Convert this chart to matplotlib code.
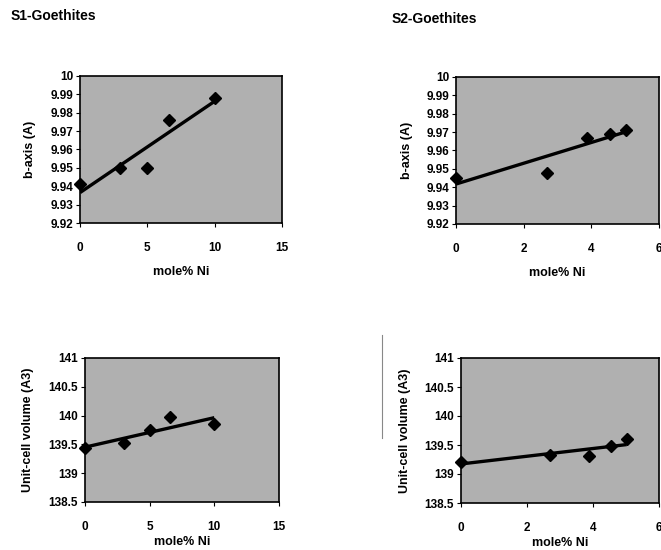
import numpy as np
import matplotlib
matplotlib.use("Agg")
import matplotlib.pyplot as plt
from matplotlib.lines import Line2D

plt.rcParams['font.family'] = ['Liberation Sans', 'DejaVu Sans']

# ---- data ----
s1_ni = [0, 3, 5, 6.6, 10]
s1_b = [9.941, 9.950, 9.950, 9.976, 9.988]
s1_vol = [139.43, 139.52, 139.75, 139.97, 139.85]

s2_ni = [0, 2.7, 3.87, 4.55, 5.02]
s2_b = [9.945, 9.948, 9.967, 9.969, 9.971]
s2_vol = [139.21, 139.33, 139.31, 139.49, 139.60]

b_ticks = [9.92, 9.93, 9.94, 9.95, 9.96, 9.97, 9.98, 9.99, 10.0]
b_ticklabels = ['9.92', '9.93', '9.94', '9.95', '9.96', '9.97', '9.98', '9.99', '10']
v_ticks = [138.5, 139, 139.5, 140, 140.5, 141]
v_ticklabels = ['138.5', '139', '139.5', '140', '140.5', '141']
s1_xticks = [0, 5, 10, 15]
s2_xticks = [0, 2, 4, 6]

W, H = 661, 550
fig = plt.figure(figsize=(W / 100, H / 100), dpi=100)


def rect(x0, x1, ytop, ybot):
    return [x0 / W, 1 - ybot / H, (x1 - x0) / W, (ybot - ytop) / H]


def panel(r, x, y, xticks, yticks, yticklabels, ylabel, ylabel_x, xlabel_y):
    ax = fig.add_axes(r)
    ax.set_facecolor('#b0b0b0')
    xf = np.array([min(x), max(x)])
    k, c = np.polyfit(x, y, 1)
    ax.plot(xf, k * xf + c, color='black', lw=2.4, solid_capstyle='butt', zorder=3)
    ax.plot(x, y, 'D', color='black', ms=6.5, zorder=4, clip_on=False)
    ax.set_xlim(xticks[0], xticks[-1])
    ax.set_ylim(yticks[0], yticks[-1])
    ax.set_xticks(xticks)
    ax.set_xticklabels([str(t) for t in xticks])
    ax.set_yticks(yticks)
    ax.set_yticklabels(yticklabels)
    ax.tick_params(axis='both', direction='out', length=3, width=0.8,
                   labelsize=8.5, colors='black', pad=2)
    ax.tick_params(axis='x', pad=11)
    for lab in ax.get_xticklabels() + ax.get_yticklabels():
        lab.set_fontweight('bold')
    for s in ax.spines.values():
        s.set_linewidth(1.2)
        s.set_color('black')
    ax.set_ylabel(ylabel, fontsize=9, fontweight='bold')
    ax.set_xlabel('mole% Ni', fontsize=9, fontweight='bold')
    ax.yaxis.set_label_coords(ylabel_x, 0.5)
    ax.xaxis.set_label_coords(0.5, xlabel_y)
    return ax


panel(rect(80, 282, 76, 223), s1_ni, s1_b, s1_xticks, b_ticks, b_ticklabels,
      'b-axis (A)', -0.218, -0.29)
panel(rect(456, 659, 77, 224), s2_ni, s2_b, s2_xticks, b_ticks, b_ticklabels,
      'b-axis (A)', -0.212, -0.29)
panel(rect(85, 279, 358, 502), s1_ni, s1_vol, s1_xticks, v_ticks, v_ticklabels,
      'Unit-cell volume (A3)', -0.263, -0.236)
panel(rect(461, 659, 358, 503), s2_ni, s2_vol, s2_xticks, v_ticks, v_ticklabels,
      'Unit-cell volume (A3)', -0.253, -0.236)

fig.text(11 / W, 1 - 16 / H, 'S1-Goethites', fontsize=10, fontweight='bold', va='center', ha='left')
fig.text(392 / W, 1 - 19 / H, 'S2-Goethites', fontsize=10, fontweight='bold', va='center', ha='left')

fig.add_artist(Line2D([382 / W, 382 / W], [1 - 335 / H, 1 - 438 / H],
                      transform=fig.transFigure, color='#888888', lw=0.8))

fig.savefig('out.png', dpi=100)
